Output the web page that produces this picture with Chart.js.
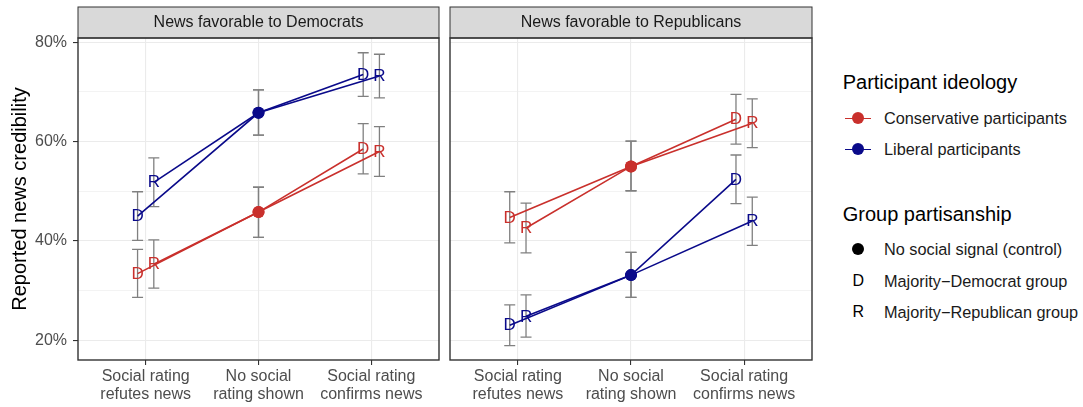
<!DOCTYPE html>
<html>
<head>
<meta charset="utf-8">
<script src="https://cdn.jsdelivr.net/npm/chart.js@4.4.1/dist/chart.umd.min.js"></script>
<style>
  html, body { margin: 0; padding: 0; background: #ffffff; }
  body { width: 1083px; height: 407px; position: relative; overflow: hidden;
         font-family: "Liberation Sans", Arial, sans-serif; }
  canvas { position: absolute; top: 0; }
  .lg { position: absolute; white-space: nowrap; line-height: 1; color: #000; }
  .lg-title { font-size: 20px; }
  .lg-label { font-size: 16.3px; color: #1a1a1a; }
  .lg-line { position: absolute; height: 1.6px; }
  .lg-dot { position: absolute; width: 12px; height: 12px; border-radius: 50%; }
  .lg-letter { position: absolute; width: 20px; text-align: center; font-size: 16px; line-height: 1; color: #000; }
</style>
</head>
<body>
<canvas id="panelDem" width="441" height="407" style="left:0px"></canvas>
<canvas id="panelRep" width="366" height="407" style="left:448px"></canvas>
<div id="legend"></div>

<script>
// ---- categories, ticks and labels ----
const categories = [
  ['Social rating', 'refutes news'],
  ['No social', 'rating shown'],
  ['Social rating', 'confirms news']
];
const categoryPositions = [1, 2, 3];
const yMajorTicks = [20, 40, 60, 80];
const yMinorTicks = [30, 50, 70];
const yTickLabels = ['20%', '40%', '60%', '80%'];
const panelTitles = ['News favorable to Democrats', 'News favorable to Republicans'];
const yAxisTitle = 'Reported news credibility';

const ideologyTitle = 'Participant ideology';
const ideologyLabels = ['Conservative participants', 'Liberal participants'];
const groupTitle = 'Group partisanship';
const groupLabels = ['No social signal (control)', 'Majority\u2212Democrat group', 'Majority\u2212Republican group'];
const groupLetters = ['D', 'R'];

// ---- values: [refutes, control, confirms], credibility in % ----
// News favorable to Democrats
const demConsD     = [33.4, 45.8, 58.5];
const demConsDLow  = [28.6, 40.7, 53.5];
const demConsDHigh = [38.3, 50.8, 63.6];
const demConsR     = [35.3, 45.8, 58.0];
const demConsRLow  = [30.5, 40.7, 53.0];
const demConsRHigh = [40.2, 50.8, 63.0];
const demLibD      = [45.0, 65.8, 73.5];
const demLibDLow   = [40.1, 61.3, 69.1];
const demLibDHigh  = [49.9, 70.4, 77.9];
const demLibR      = [51.8, 65.8, 73.2];
const demLibRLow   = [46.9, 61.3, 68.8];
const demLibRHigh  = [56.7, 70.4, 77.6];

// News favorable to Republicans
const repConsD     = [44.7, 55.0, 64.5];
const repConsDLow  = [39.6, 50.1, 59.5];
const repConsDHigh = [49.9, 60.1, 69.5];
const repConsR     = [42.6, 55.0, 63.7];
const repConsRLow  = [37.6, 50.1, 58.8];
const repConsRHigh = [47.6, 60.1, 68.6];
const repLibD      = [23.0, 33.1, 52.4];
const repLibDLow   = [18.9, 28.6, 47.5];
const repLibDHigh  = [27.1, 37.7, 57.3];
const repLibR      = [24.8, 33.1, 44.0];
const repLibRLow   = [20.6, 28.6, 39.1];
const repLibRHigh  = [29.1, 37.7, 48.8];

// ---- styling ----
const FONT = '"Liberation Sans", Arial, sans-serif';
const RED = '#c9302c';
const BLUE = '#0a0a8a';
const GRID = '#ebebeb';
const DARK = '#333333';
const ERR = '#808080';
const DODGE = 0.072;         // horizontal offset of the D / R groups
const Y_MIN = 16.0, Y_MAX = 80.87;
const X_MIN = 0.4, X_MAX = 3.6;

function series(letter, color, vals, lo, hi) {
  const off = letter === 'D' ? -DODGE : DODGE;
  return {
    type: 'line',
    letter: letter,
    errLow: lo,
    errHigh: hi,
    data: vals.map((v, i) => ({ x: categoryPositions[i] + (i === 1 ? 0 : off), y: v })),
    borderColor: color,
    backgroundColor: color,
    borderWidth: 1.6,
    pointRadius: [0, 6, 0],
    pointBorderWidth: 0,
    pointBackgroundColor: color,
    tension: 0,
    fill: false
  };
}

// error bars behind the lines
const errorBars = {
  id: 'errorBars',
  beforeDatasetsDraw(chart) {
    const ctx = chart.ctx, ys = chart.scales.y;
    ctx.save();
    ctx.strokeStyle = ERR;
    ctx.lineWidth = 1.3;
    chart.data.datasets.forEach((ds, di) => {
      const meta = chart.getDatasetMeta(di);
      meta.data.forEach((pt, i) => {
        const y1 = ys.getPixelForValue(ds.errLow[i]);
        const y2 = ys.getPixelForValue(ds.errHigh[i]);
        const x = pt.x, w = 5.5;
        ctx.beginPath();
        ctx.moveTo(x, y1); ctx.lineTo(x, y2);
        ctx.moveTo(x - w, y1); ctx.lineTo(x + w, y1);
        ctx.moveTo(x - w, y2); ctx.lineTo(x + w, y2);
        ctx.stroke();
      });
    });
    ctx.restore();
  }
};

// D / R letters at the social-signal points
const letterMarks = {
  id: 'letterMarks',
  afterDatasetsDraw(chart) {
    const ctx = chart.ctx;
    ctx.save();
    ctx.font = '17px ' + FONT;
    ctx.textAlign = 'center';
    ctx.textBaseline = 'middle';
    chart.data.datasets.forEach((ds, di) => {
      const meta = chart.getDatasetMeta(di);
      [0, 2].forEach(i => {
        const pt = meta.data[i];
        ctx.fillStyle = ds.borderColor;
        ctx.fillText(ds.letter, pt.x, pt.y + 0.5);
      });
    });
    ctx.restore();
  }
};

// facet strip and panel frame
const panelFrame = {
  id: 'panelFrame',
  afterDraw(chart, args, opts) {
    const ctx = chart.ctx, a = chart.chartArea;
    const stripH = 31;
    ctx.save();
    ctx.fillStyle = '#d9d9d9';
    ctx.fillRect(a.left, a.top - stripH, a.right - a.left, stripH);
    ctx.strokeStyle = DARK;
    ctx.lineWidth = 1;
    ctx.strokeRect(a.left, a.top - stripH, a.right - a.left, stripH);
    ctx.fillStyle = '#1a1a1a';
    ctx.font = '16px ' + FONT;
    ctx.textAlign = 'center';
    ctx.textBaseline = 'middle';
    ctx.fillText(opts.title, (a.left + a.right) / 2, a.top - stripH / 2 + 0.5);
    ctx.lineWidth = 1.4;
    ctx.strokeStyle = DARK;
    ctx.strokeRect(a.left, a.top, a.right - a.left, a.bottom - a.top);
    ctx.restore();
  }
};

function makePanel(id, title, datasets, withYAxis) {
  const isMajor = v => yMajorTicks.includes(v);
  return new Chart(document.getElementById(id), {
    type: 'line',
    data: { datasets },
    plugins: [errorBars, letterMarks, panelFrame],
    options: {
      responsive: false,
      animation: false,
      events: [],
      layout: { padding: { top: 38, bottom: 0, left: withYAxis ? 0 : 2, right: 2 } },
      plugins: {
        legend: { display: false },
        tooltip: { enabled: false },
        panelFrame: { title: title }
      },
      scales: {
        x: {
          type: 'linear',
          min: X_MIN, max: X_MAX,
          bounds: 'data',
          afterBuildTicks: s => { s.ticks = categoryPositions.map(v => ({ value: v })); },
          afterFit: s => { s.height = 47; },
          border: { display: false },
          grid: { color: GRID, lineWidth: 1.1, tickColor: DARK, tickLength: 5, tickWidth: 1.1 },
          ticks: {
            autoSkip: false, maxRotation: 0, padding: 3,
            color: '#4d4d4d', font: { family: FONT, size: 16, lineHeight: 1.1 },
            callback: (v, i) => categories[i]
          }
        },
        y: {
          type: 'linear',
          min: Y_MIN, max: Y_MAX,
          bounds: 'data',
          afterBuildTicks: s => { s.ticks = yMajorTicks.concat(yMinorTicks).sort((a, b) => a - b).map(v => ({ value: v })); },
          afterFit: s => { s.width = withYAxis ? 78 : 0; },
          border: { display: false },
          grid: {
            color: GRID,
            lineWidth: c => isMajor(c.tick.value) ? 1.1 : 0.6,
            drawTicks: withYAxis,
            tickLength: 5,
            tickWidth: 1.1,
            tickColor: c => isMajor(c.tick.value) ? DARK : 'rgba(0,0,0,0)'
          },
          ticks: {
            display: withYAxis,
            padding: 6,
            color: '#4d4d4d', font: { family: FONT, size: 16 },
            callback: v => isMajor(v) ? yTickLabels[yMajorTicks.indexOf(v)] : ''
          },
          title: {
            display: withYAxis,
            text: yAxisTitle,
            color: '#000000',
            font: { family: FONT, size: 20 },
            padding: { top: 8, bottom: 0 }
          }
        }
      }
    }
  });
}

makePanel('panelDem', panelTitles[0], [
  series('D', RED, demConsD, demConsDLow, demConsDHigh),
  series('R', RED, demConsR, demConsRLow, demConsRHigh),
  series('D', BLUE, demLibD, demLibDLow, demLibDHigh),
  series('R', BLUE, demLibR, demLibRLow, demLibRHigh)
], true);

makePanel('panelRep', panelTitles[1], [
  series('D', RED, repConsD, repConsDLow, repConsDHigh),
  series('R', RED, repConsR, repConsRLow, repConsRHigh),
  series('D', BLUE, repLibD, repLibDLow, repLibDHigh),
  series('R', BLUE, repLibR, repLibRLow, repLibRHigh)
], false);

// ---- legend ----
(function buildLegend() {
  const root = document.getElementById('legend');
  const keyX = 858.3, textX = 884;
  function add(cls, text, left, top) {
    const d = document.createElement('div');
    d.className = 'lg ' + cls;
    d.textContent = text;
    d.style.left = left + 'px';
    d.style.top = top + 'px';
    root.appendChild(d);
    return d;
  }
  add('lg-title', ideologyTitle, 842.7, 72.4);
  const ideologyColors = [RED, BLUE];
  const ideologyRows = [118.3, 149.3];
  ideologyLabels.forEach((lab, i) => {
    const cy = ideologyRows[i];
    const line = document.createElement('div');
    line.className = 'lg-line';
    line.style.cssText = `left:${keyX - 13}px;top:${cy - 0.8}px;width:26px;background:${ideologyColors[i]}`;
    root.appendChild(line);
    const dot = document.createElement('div');
    dot.className = 'lg-dot';
    dot.style.cssText = `left:${keyX - 6}px;top:${cy - 6}px;background:${ideologyColors[i]}`;
    root.appendChild(dot);
    add('lg-label', lab, textX, cy + 5.8 - 13.8);
  });
  add('lg-title', groupTitle, 842.7, 204.1);
  const groupRows = [249.3, 280.7, 311.7];
  groupLabels.forEach((lab, i) => {
    const cy = groupRows[i];
    if (i === 0) {
      const dot = document.createElement('div');
      dot.className = 'lg-dot';
      dot.style.cssText = `left:${keyX - 6}px;top:${cy - 6}px;background:#000`;
      root.appendChild(dot);
    } else {
      const l = document.createElement('div');
      l.className = 'lg-letter';
      l.textContent = groupLetters[i - 1];
      l.style.left = (keyX - 10) + 'px';
      l.style.top = (cy - 7.8) + 'px';
      root.appendChild(l);
    }
    add('lg-label', lab, textX, cy + 5.8 - 13.8);
  });
})();
</script>
</body>
</html>
